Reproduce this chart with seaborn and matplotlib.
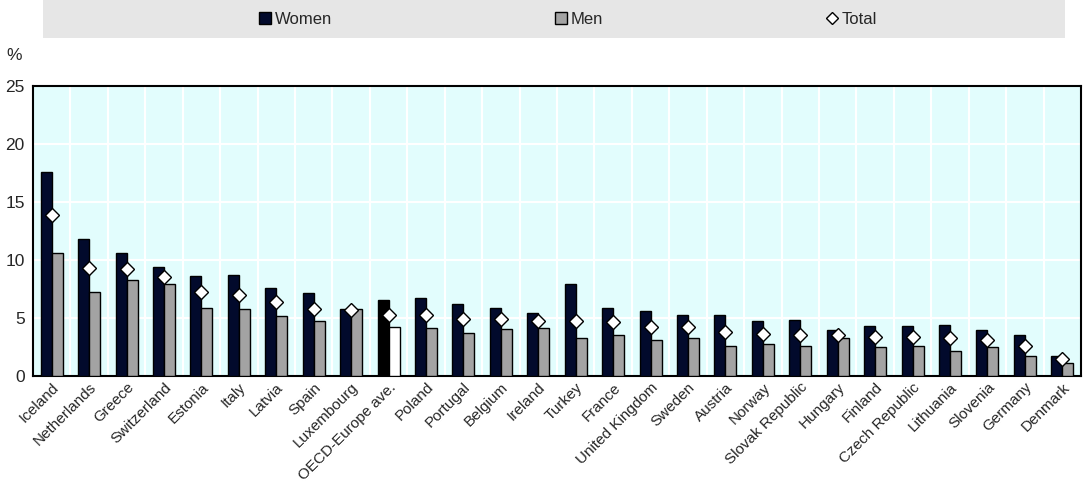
import numpy as np
import pandas as pd
import matplotlib
matplotlib.use('Agg')
import matplotlib.pyplot as plt
import seaborn as sns
from matplotlib.lines import Line2D
from matplotlib.patches import Rectangle

countries = ['Iceland', 'Netherlands', 'Greece', 'Switzerland', 'Estonia', 'Italy',
             'Latvia', 'Spain', 'Luxembourg', 'OECD-Europe ave.', 'Poland', 'Portugal',
             'Belgium', 'Ireland', 'Turkey', 'France', 'United Kingdom', 'Sweden',
             'Austria', 'Norway', 'Slovak Republic', 'Hungary', 'Finland',
             'Czech Republic', 'Lithuania', 'Slovenia', 'Germany', 'Denmark']
women = [17.6, 11.8, 10.6, 9.4, 8.6, 8.75, 7.6, 7.15, 5.75, 6.55, 6.7, 6.2,
         5.9, 5.45, 7.9, 5.85, 5.6, 5.28, 5.3, 4.7, 4.83, 3.97, 4.28,
         4.28, 4.4, 4.0, 3.5, 1.72]
men = [10.6, 7.2, 8.3, 7.9, 5.9, 5.8, 5.2, 4.7, 5.8, 4.25, 4.14, 3.73,
       4.05, 4.14, 3.28, 3.56, 3.07, 3.28, 2.6, 2.76, 2.6, 3.28, 2.53,
       2.56, 2.18, 2.47, 1.75, 1.09]
total = [13.85, 9.35, 9.2, 8.55, 7.2, 7.0, 6.4, 5.75, 5.72, 5.26, 5.26, 4.9,
         4.9, 4.74, 4.74, 4.68, 4.25, 4.2, 3.8, 3.6, 3.53, 3.53, 3.33,
         3.33, 3.28, 3.1, 2.6, 1.43]

navy = '#020a2c'
grey = '#a3a3a3'
bg = '#e2fdfd'

sns.set_style('white')
plt.rcParams['font.family'] = ['Liberation Sans', 'DejaVu Sans']

df = pd.DataFrame({'country': countries * 2,
                   'value': women + men,
                   'sex': ['Women'] * len(countries) + ['Men'] * len(countries)})

fig = plt.figure(figsize=(10.84, 4.84), dpi=100)
ax = fig.add_axes([33 / 1084, 108 / 484, 1048 / 1084, 290 / 484])
ax.set_facecolor(bg)

sns.barplot(data=df, x='country', y='value', hue='sex', order=countries,
            hue_order=['Women', 'Men'], palette=[navy, grey], width=0.59,
            edgecolor='black', linewidth=1, saturation=1, legend=False, ax=ax, zorder=3)

# OECD average in black/white
oecd = countries.index('OECD-Europe ave.')
n = len(countries)
ax.patches[oecd].set_facecolor('black')
ax.patches[n + oecd].set_facecolor('white')

sns.pointplot(x=countries, y=total, order=countries, linestyle='none', marker='D',
              markersize=6.8, color='white', markeredgecolor='black',
              markeredgewidth=1, errorbar=None, ax=ax, zorder=5)
for c in ax.collections + ax.lines:
    c.set_zorder(5)

ax.set_ylim(0, 25)
ax.set_xlim(-0.5, n - 0.5)
ax.set_yticks([0, 5, 10, 15, 20, 25])
ax.set_xticks(range(n))
ax.set_xticklabels(countries, rotation=45, ha='right', rotation_mode='anchor')
ax.set_xticks(np.arange(n - 1) + 0.5, minor=True)
ax.tick_params(axis='x', which='major', length=0, labelsize=11, pad=3)
ax.tick_params(axis='x', which='minor', length=4, direction='in', width=1.2, color='black')
ax.tick_params(axis='y', length=0, labelsize=12.5, pad=6)
ax.grid(False)
for y in [5, 10, 15, 20]:
    ax.axhline(y, color='white', lw=1.5, zorder=1)
for x in np.arange(n - 1) + 0.5:
    ax.axvline(x, color='white', lw=1.5, zorder=1)
ax.set_xlabel('')
ax.set_ylabel('')
for s in ax.spines.values():
    s.set_visible(True)
    s.set_color('black')
    s.set_linewidth(1.5)

fig.text(6 / 1084, 1 - 56 / 484, '%', fontsize=12.5, va='center', ha='left')

# legend band
fig.patches.append(Rectangle((43 / 1084, 1 - 38 / 484), 1022 / 1084, 38 / 484,
                             transform=fig.transFigure, facecolor='#e6e6e6',
                             edgecolor='none', zorder=0))
handles = [Line2D([], [], marker='s', ls='none', markersize=8, markerfacecolor=navy,
                  markeredgecolor='black'),
           Line2D([], [], marker='s', ls='none', markersize=8, markerfacecolor=grey,
                  markeredgecolor='black'),
           Line2D([], [], marker='D', ls='none', markersize=6, markerfacecolor='white',
                  markeredgecolor='black')]
leg_fs = 12
fig.legend(handles, ['Women', 'Men', 'Total'], loc='center', ncol=3,
           bbox_to_anchor=(568 / 1084, 1 - 19 / 484), frameon=False, fontsize=leg_fs,
           handlelength=0.8, handletextpad=0.2,
           columnspacing=222 / (leg_fs * 100 / 72))

fig.savefig('out.png', dpi=100)
